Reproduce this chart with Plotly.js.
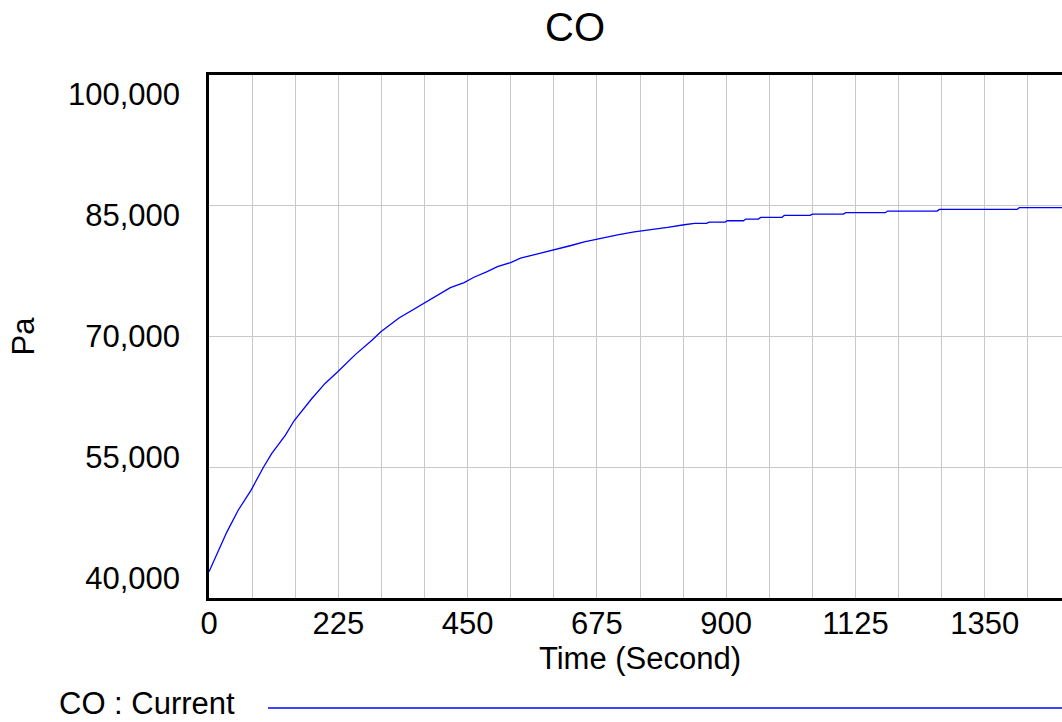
<!DOCTYPE html>
<html><head><meta charset="utf-8">
<script src="https://cdn.plot.ly/plotly-3.0.1.min.js"></script>
<style>html,body{margin:0;padding:0;background:#fff;width:1062px;height:722px;overflow:hidden}</style>
</head><body><div id="chart" style="width:1071px;height:722px"></div>
<script>
// Time (Second)
const timeSec = [0,16,31,51,73,95,109,133,148,179,202,224,255,284,299,330,354,375,
  391,420,444,461,484,502,525,542,572,601,630,653,682,711,740,769,798,827,845,
  866,870,898,902,930,934,956,960,997,1001,1046,1050,1104,1108,1177,1181,1267,1271,1406,1410,1500];
// CO : Current (Pa)
const coCurrent = [43000,45460,47560,50100,52350,55030,56570,58680,60330,62890,64620,65950,67950,69600,70550,72090,73050,73880,
  74500,75610,76190,76800,77450,78020,78480,78990,79480,79940,80440,80860,81280,81670,82010,82240,82510,82820,82970,
  82970,83120,83120,83280,83280,83470,83470,83660,83660,83890,83890,84040,84040,84200,84200,84390,84390,84580,84580,84780,84780];

const xTickVals = [0,225,450,675,900,1125,1350];
const xTickText = ['0','225','450','675','900','1125','1350'];
const yTickVals = [40000,55000,70000,85000,100000];
const yTickText = ['40,000','55,000','70,000','85,000','100,000'];
const seriesName = 'CO : Current';
const chartTitle = 'CO';
const xTitle = 'Time (Second)';
const yTitle = 'Pa';

const FONT = 'Liberation Sans, Arial, sans-serif';
const W = 1071;          // chart is wider than the window and cropped on the right, as in the reference
const PW = W - 209;      // plot width
const yMid = (yTickVals[0] + yTickVals[yTickVals.length-1]) / 2;
// Vensim-style labels pulled toward the middle of the axis
const yLabelPos = yTickVals.map(v => v - (v - yMid) * 0.075);

const trace = {
  x: timeSec, y: coCurrent, type: 'scatter', mode: 'lines',
  name: seriesName, line: {color: '#0000ff', width: 1.3}, showlegend: false,
  hoverinfo: 'x+y'
};

const layout = {
  width: W, height: 722,
  margin: {l: 209, r: 0, t: 75, b: 124},
  paper_bgcolor: '#fff', plot_bgcolor: '#fff',
  font: {family: FONT, size: 31, color: '#000'},
  title: {text: chartTitle, font: {family: FONT, size: 40, color: '#000'},
    x: 575/W, xref: 'container', xanchor: 'center',
    y: 1 - 27/722, yref: 'container', yanchor: 'middle'},
  xaxis: {
    range: [0, 1500], tickvals: xTickVals, ticktext: xTickText,
    showgrid: true, gridcolor: '#c8c8c8', gridwidth: 1,
    minor: {dtick: 75, tick0: 0, showgrid: true, gridcolor: '#c8c8c8', gridwidth: 1},
    showline: true, linecolor: '#000', linewidth: 3, mirror: true,
    ticks: '', zeroline: false, ticklabelstandoff: -4,
    tickfont: {family: FONT, size: 31, color: '#000'},
    title: {text: xTitle, font: {family: FONT, size: 31, color: '#000'}, standoff: 4},
    automargin: false
  },
  yaxis: {
    range: [40000, 100000], tickvals: yTickVals,
    showticklabels: false, showgrid: true, gridcolor: '#c8c8c8', gridwidth: 1,
    showline: true, linecolor: '#000', linewidth: 3, mirror: false,
    ticks: '', zeroline: false, automargin: false
  },
  yaxis2: {
    range: [40000, 100000], overlaying: 'y', side: 'left', anchor: 'x',
    tickvals: yLabelPos, ticktext: yTickText,
    showgrid: false, showline: false, zeroline: false, ticks: '',
    ticklabelstandoff: 28,
    tickfont: {family: FONT, size: 31, color: '#000'},
    title: {text: yTitle, font: {family: FONT, size: 31, color: '#000'}, standoff: 24},
    automargin: false
  },
  shapes: [{
    type: 'line', xref: 'paper', yref: 'paper',
    x0: (268-209)/PW, x1: 1, y0: (598-708)/523, y1: (598-708)/523,
    line: {color: '#0000ff', width: 1.3}
  }],
  annotations: [{
    text: seriesName, xref: 'paper', yref: 'paper',
    x: (57-209)/PW, y: (598-703)/523, xanchor: 'left', yanchor: 'middle',
    showarrow: false, font: {family: FONT, size: 31, color: '#000'}
  }],
  showlegend: false
};

// invisible trace so yaxis2 (the label axis) is drawn
const axisHolder = {x: [0], y: [70000], yaxis: 'y2', type: 'scatter', mode: 'markers',
  marker: {opacity: 0}, showlegend: false, hoverinfo: 'skip'};

Plotly.newPlot('chart', [trace, axisHolder], layout, {displayModeBar: false, staticPlot: true});
</script></body></html>
